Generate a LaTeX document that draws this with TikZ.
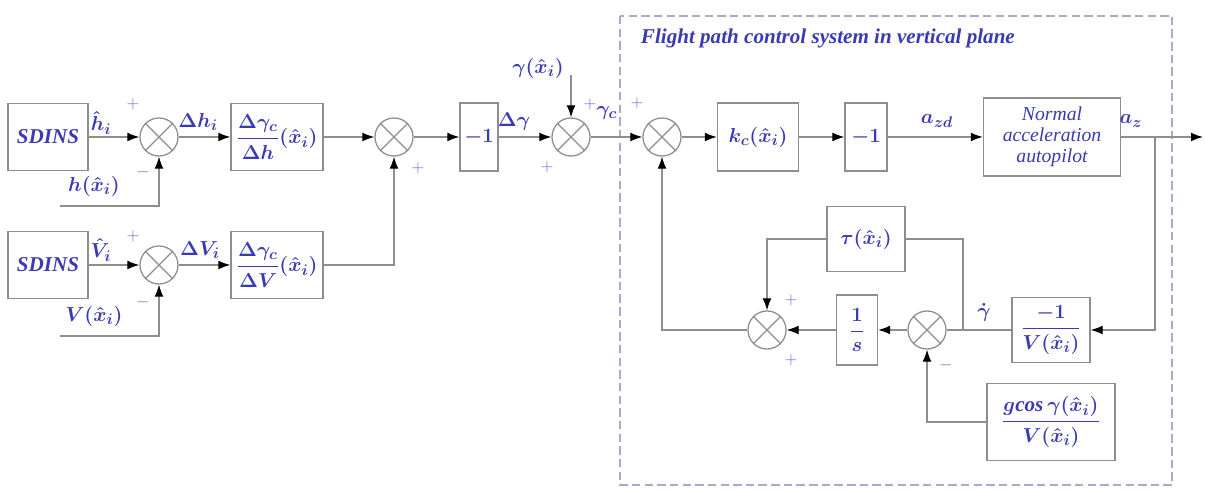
\documentclass[tikz,border=0pt]{standalone}
\usepackage{amsmath}
\usepackage{fontspec}
\setmainfont{Liberation Serif}
\usetikzlibrary{arrows.meta,positioning,calc}
\definecolor{ink}{HTML}{3A3AB4}
\definecolor{wirec}{HTML}{8E8E8E}
\definecolor{framec}{HTML}{A9A9D2}
\newcommand{\lblfont}{\fontsize{15}{17}\selectfont}

\begin{document}
\begin{tikzpicture}[x=0.025cm, y=-0.025cm, font=\lblfont\boldmath,
  blk/.style={draw=wirec, line width=0.9pt, text=ink, align=center, inner sep=1pt},
  insbox/.style={blk, minimum width=2cm, minimum height=1.675cm, font=\lblfont\bfseries\itshape},
  ratio/.style={blk, minimum width=2.3cm, minimum height=1.675cm},
  sumn/.style={circle, draw=wirec, line width=0.9pt, minimum size=0.95cm, inner sep=0pt},
  arr/.style={-{Latex[length=3mm,width=2.2mm,color=black]}, wirec, line width=0.9pt},
  ln/.style={wirec, line width=0.9pt},
  lab/.style={text=ink, inner sep=0.5pt},
  sgn/.style={text=ink!75, inner sep=0pt, font=\fontsize{12}{12}\selectfont}]
  \useasboundingbox (0,0) rectangle (1205,490);
  % outer frame of the vertical plane loop
  \draw[framec, line width=0.9pt, dash pattern=on 6pt off 3pt] (620,16) rectangle (1172,485);
  \node[lab, anchor=west, font=\fontsize{15}{17}\selectfont\bfseries\itshape] (title) at (640,38) {Flight path control system in vertical plane};

  % altitude and speed channels
  \node[insbox] (insh) at (48,137) {SDINS};
  \node[sumn] (sumh) at (159,137) {};
  \node[ratio] (gainh) at (277,137) {$\dfrac{\Delta\gamma_c}{\Delta h}(\hat{x}_i)$};
  \node[insbox] (insv) at (48,265) {SDINS};
  \node[sumn] (sumv) at (159,265) {};
  \node[ratio] (gainv) at (277,265) {$\dfrac{\Delta\gamma_c}{\Delta V}(\hat{x}_i)$};
  \node[sumn] (sumg) at (394,137) {};
  \node[blk, minimum width=0.95cm, minimum height=1.7cm] (negg) at (479,137) {$-1$};
  \node[sumn] (sumc) at (571,137) {};

  % flight path loop
  \node[sumn] (sume) at (662,137) {};
  \node[blk, minimum width=2.025cm, minimum height=1.7cm] (kc) at (758,137) {$k_c(\hat{x}_i)$};
  \node[blk, minimum width=1.05cm, minimum height=1.7cm] (nega) at (866,137) {$-1$};
  \node[blk, minimum width=3.425cm, minimum height=1.95cm, font=\fontsize{14}{15}\selectfont\itshape] (nap) at (1052,137) {Normal\\acceleration\\autopilot};
  \node[blk, minimum width=1.95cm, minimum height=1.625cm] (tau) at (866,239) {$\tau(\hat{x}_i)$};
  \node[sumn] (sumf) at (767,330) {};
  \node[blk, minimum width=1.025cm, minimum height=1.75cm] (integ) at (857,330) {$\dfrac{1}{s}$};
  \node[sumn] (sumd) at (927,330) {};
  \node[blk, minimum width=1.95cm, minimum height=1.625cm] (inv) at (1051,330) {$\dfrac{-1}{V(\hat{x}_i)}$};
  \node[blk, minimum width=3.2cm, minimum height=1.925cm] (grav) at (1051,422) {$\dfrac{g\mathit{cos}\,\gamma(\hat{x}_i)}{V(\hat{x}_i)}$};

  \foreach \s in {sumh,sumv,sumg,sumc,sume,sumd,sumf}
    \draw[ln] (\s.north east) -- (\s.south west) (\s.north west) -- (\s.south east);

  \coordinate (hin) at (60,206);
  \coordinate (vin) at (60,336);
  \coordinate (gin) at (571,75);
  \coordinate (out) at (1203,137);
  \coordinate (tapz) at (1155,137);
  \coordinate (tapg) at (963,330);

  \draw[arr] (insh) -- (sumh); \draw[arr] (sumh) -- (gainh); \draw[arr] (gainh) -- (sumg);
  \draw[arr] (insv) -- (sumv); \draw[arr] (sumv) -- (gainv); \draw[arr] (gainv) -| (sumg);
  \draw[arr] (hin) -| (sumh); \draw[arr] (vin) -| (sumv);
  \draw[arr] (sumg) -- (negg); \draw[arr] (negg) -- (sumc); \draw[arr] (gin) -- (sumc);
  \draw[arr] (sumc) -- (sume); \draw[arr] (sume) -- (kc); \draw[arr] (kc) -- (nega);
  \draw[arr] (nega) -- (nap); \draw[arr] (nap) -- (out);
  \draw[arr] (tapz) |- (inv); \draw[ln] (inv) -- (sumd); \draw[ln] (tapg) |- (tau);
  \draw[arr] (tau) -| (sumf); \draw[arr] (sumd) -- (integ); \draw[arr] (integ) -- (sumf);
  \draw[arr] (sumf) -| (sume); \draw[arr] (grav) -| (sumd);

  % signal labels
  \node[lab] (hhat) at (101,123) {$\hat{h}_i$};
  \node[lab] (dh) at (198,122) {$\Delta h_i$};
  \node[lab] (hx) at (94,186) {$h(\hat{x}_i)$};
  \node[lab] (vhat) at (101,250) {$\hat{V}_i$};
  \node[lab] (dv) at (200,250) {$\Delta V_i$};
  \node[lab] (vx) at (94,316) {$V(\hat{x}_i)$};
  \node[lab] (dg) at (514,122) {$\Delta\gamma$};
  \node[lab] (gx) at (538,68) {$\gamma(\hat{x}_i)$};
  \node[lab] (gc) at (607,113) {$\gamma_c$};
  \node[lab] (azd) at (937,121) {$a_{zd}$};
  \node[lab] (az) at (1131,121) {$a_z$};
  \node[lab] (gdot) at (984,312) {$\dot{\gamma}$};

  % signs at the summing points
  \node[sgn] (p1) at (133,104) {$+$}; \node[sgn] (m1) at (143,172) {$-$};
  \node[sgn] (p2) at (133,236) {$+$}; \node[sgn] (m2) at (143,302) {$-$};
  \node[sgn] (p3) at (418,168) {$+$}; \node[sgn] (p4) at (590,104) {$+$};
  \node[sgn] (p5) at (547,167) {$+$}; \node[sgn] (p6) at (637,103) {$+$};
  \node[sgn] (p7) at (791,300) {$+$}; \node[sgn] (p8) at (791,360) {$+$};
  \node[sgn] (m3) at (946,365) {$-$};
\end{tikzpicture}
\end{document}
